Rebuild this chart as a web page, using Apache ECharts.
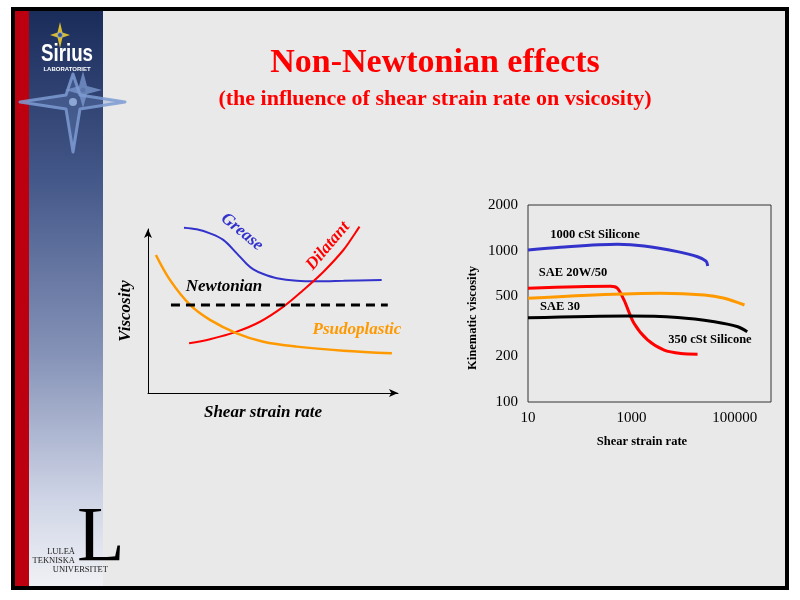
<!DOCTYPE html>
<html><head><meta charset="utf-8">
<script src="https://cdn.jsdelivr.net/npm/echarts@6/dist/echarts.min.js"></script>
<style>html,body{margin:0;padding:0;background:#fff}#c{width:800px;height:600px}</style>
</head><body><div id="c"></div>
<script>
// ---------- Left (qualitative) chart data: arbitrary units 0..100 ----------
const greaseX = [14.1, 19.1, 24.3, 29.5, 34.8, 38.7, 41.3, 45.2, 50.5, 58.3, 66.2, 76.6, 91.6];
const greaseY = [98.4, 97.4, 95.0, 91.1, 83.1, 76.8, 73.6, 70.8, 68.3, 66.8, 66.5, 66.8, 67.3];
const dilatantX = [16.1, 24.3, 34.8, 43.9, 53.1, 60.9, 68.8, 76.6, 81.2, 82.9];
const dilatantY = [29.6, 32.0, 36.5, 42.4, 51.4, 61.3, 72.2, 85.1, 95.1, 99.0];
const pseudoX = [3.1, 8.6, 16.5, 24.3, 34.8, 45.2, 58.3, 76.6, 95.6];
const pseudoY = [82.1, 67.3, 52.4, 43.5, 35.5, 30.5, 27.6, 25.2, 23.6];
const newtonX = [9, 94];
const newtonY = [52.4, 52.4];

// ---------- Right (log-log) chart data ----------
const sil1000X = [10, 42, 535, 1760, 7800, 19000, 27700, 29900];
const sil1000Y = [1009, 1052, 1100, 1072, 984, 911, 853, 791];
const sae2050X = [10, 89, 396, 535, 718, 1120, 2050, 4300, 9060, 19000];
const sae2050Y = [564, 577, 581, 564, 472, 331, 257, 220, 209, 207];
const sae30X = [10, 188, 3710, 25700, 62800, 153500];
const sae30Y = [484, 509, 522, 509, 484, 437];
const sil350X = [10, 836, 7820, 40300, 114300, 173400];
const sil350Y = [360, 370, 362, 339, 314, 291];

const xTickValues = [10, 1000, 100000];
const yTickValues = [100, 200, 500, 1000, 2000];

// ---------- Texts ----------
const titleText = 'Non-Newtonian effects';
const subtitleText = '(the influence of shear strain rate on vsicosity)';

const serif = '"Liberation Serif","Times New Roman",serif';
const sans = '"Liberation Sans",Arial,sans-serif';
const pair = (xs, ys) => xs.map((x, i) => [x, ys[i]]);

const chart = echarts.init(document.getElementById('c'), null, {width: 800, height: 600});

function txt(text, x, y, font, fill, opts) {
  return Object.assign({
    type: 'text', x: x, y: y, z: 10,
    style: {text: text, font: font, fill: fill, textAlign: 'center', textVerticalAlign: 'middle'}
  }, opts || {});
}

const bg = [
  {type: 'rect', z: -10, shape: {x: 13, y: 9, width: 774, height: 579},
   style: {fill: '#e9e9e9', stroke: '#000', lineWidth: 4}},
  {type: 'rect', z: -9, shape: {x: 15, y: 11, width: 14, height: 575}, style: {fill: '#bd0010'}},
  {type: 'rect', z: -9, shape: {x: 29, y: 11, width: 74, height: 575},
   style: {fill: new echarts.graphic.LinearGradient(0, 0, 0, 1, [
     {offset: 0, color: '#1a2c5a'}, {offset: 0.3, color: '#45598a'},
     {offset: 0.6, color: '#8693b8'}, {offset: 0.85, color: '#cfd5e6'},
     {offset: 1, color: '#f0f1f5'}])}},
  // big compass star (outlined)
  {type: 'polygon', z: -8, shape: {points: [[73,74],[80,95],[125,102],[80,109],[73,152],[66,109],[20,102],[66,95]]},
   style: {fill: 'rgba(110,140,195,0.30)', stroke: 'rgba(125,155,210,0.85)', lineWidth: 3, lineJoin: 'round'}},
  {type: 'polygon', z: -8, shape: {points: [[83,71],[87,86],[102,90],[87,94],[83,108],[79,94],[65,90],[79,86]]},
   style: {fill: 'rgba(125,155,210,0.75)'}},
  {type: 'circle', z: -7, shape: {cx: 73, cy: 102, r: 4}, style: {fill: 'rgba(150,175,220,0.9)'}},
  {type: 'circle', z: -7, shape: {cx: 83, cy: 90, r: 2.5}, style: {fill: 'rgba(90,115,170,0.9)'}},
  // small Sirius star
  {type: 'polygon', z: -7, shape: {points: [[60,22],[62.5,32.5],[70,35],[62.5,37.5],[60,48],[57.5,37.5],[50,35],[57.5,32.5]]},
   style: {fill: '#d9bb2e'}},
  {type: 'circle', z: -6, shape: {cx: 60, cy: 35, r: 2.5}, style: {fill: '#2d4f94', stroke: '#9fb6e0', lineWidth: 0.8}},
  {type: 'text', x: 41, y: 54, z: 10, scaleX: 0.78,
   style: {text: 'Sirius', font: 'bold 24px ' + sans, fill: '#ffffff', textAlign: 'left', textVerticalAlign: 'middle'}},
  txt('LABORATORIET', 67, 69, 'bold 6px ' + sans, '#ffffff'),
  // LTU logo
  {type: 'text', x: 77, y: 540, z: 10, style: {text: 'L', font: '78px ' + serif, fill: '#000', textAlign: 'left', textVerticalAlign: 'middle'}},
  {type: 'text', x: 75, y: 552, z: 10, style: {text: 'LULEÅ', font: '8.5px ' + serif, fill: '#222', textAlign: 'right', textVerticalAlign: 'middle'}},
  {type: 'text', x: 75, y: 561, z: 10, style: {text: 'TEKNISKA', font: '8.5px ' + serif, fill: '#222', textAlign: 'right', textVerticalAlign: 'middle'}},
  {type: 'text', x: 108, y: 570, z: 10, style: {text: 'UNIVERSITET', font: '8.5px ' + serif, fill: '#222', textAlign: 'right', textVerticalAlign: 'middle'}},
  // titles
  txt(titleText, 435, 63, 'bold 34px ' + serif, '#ff0000'),
  txt(subtitleText, 435, 99, 'bold 22px ' + serif, '#ff0000'),
  // left chart labels
  txt('Grease', 242, 232, 'bold italic 17px ' + serif, '#3333cc', {rotation: -0.69}),
  txt('Dilatant', 328, 246, 'bold italic 17px ' + serif, '#ff0000', {rotation: 0.87}),
  txt('Newtonian', 224, 287, 'bold italic 17px ' + serif, '#000000'),
  txt('Psudoplastic', 357, 330, 'bold italic 17px ' + serif, '#ff9900'),
  txt('Shear strain rate', 263, 413, 'bold italic 17px ' + serif, '#000000'),
  // right chart labels
  txt('1000 cSt Silicone', 595, 235, 'bold 12.5px ' + serif, '#000'),
  txt('SAE 20W/50', 573, 273, 'bold 12.5px ' + serif, '#000'),
  txt('SAE 30', 560, 307, 'bold 12.5px ' + serif, '#000'),
  txt('350 cSt Silicone', 710, 340, 'bold 12.5px ' + serif, '#000'),
  txt('Kinematic viscosity', 473, 318, 'bold 12.5px ' + serif, '#000', {rotation: Math.PI / 2}),
  txt('Shear strain rate', 642, 442, 'bold 12.5px ' + serif, '#000')
];

const plainAxis = {
  axisTick: {show: false}, splitLine: {show: false}
};

const option = {
  animation: false,
  backgroundColor: '#ffffff',
  graphic: {elements: bg},
  grid: [
    {left: 148, top: 229, width: 250, height: 164},
    {left: 528, top: 205, width: 243, height: 197, show: true, borderColor: '#333', borderWidth: 1, backgroundColor: 'transparent'}
  ],
  xAxis: [
    Object.assign({gridIndex: 0, type: 'value', min: 0, max: 98, z: 5,
      axisLine: {show: true, symbol: ['none', 'arrow'], symbolSize: [6, 9], lineStyle: {color: '#000', width: 1}},
      axisLabel: {show: false}}, plainAxis),
    Object.assign({gridIndex: 1, type: 'log', logBase: 10, min: 10, max: 500000, z: 5,
      axisLine: {show: false},
      axisLabel: {customValues: xTickValues, margin: 9, fontFamily: serif, fontSize: 15, color: '#000',
        formatter: v => String(Math.round(v))}}, plainAxis)
  ],
  yAxis: [
    Object.assign({gridIndex: 0, type: 'value', min: 0, max: 97.6, z: 5,
      name: 'Viscosity', nameLocation: 'middle', nameRotate: 90, nameGap: 14,
      nameTextStyle: {fontFamily: serif, fontSize: 17, fontWeight: 'bold', fontStyle: 'italic', color: '#000'},
      axisLine: {show: true, symbol: ['none', 'arrow'], symbolSize: [6, 9], lineStyle: {color: '#000', width: 1}},
      axisLabel: {show: false}}, plainAxis),
    Object.assign({gridIndex: 1, type: 'log', logBase: 10, min: 100, max: 2000, z: 5,
      axisLine: {show: false},
      axisLabel: {customValues: yTickValues, margin: 10, fontFamily: serif, fontSize: 15, color: '#000',
        formatter: v => String(Math.round(v))}}, plainAxis)
  ],
  series: [
    {name: 'Grease', type: 'line', xAxisIndex: 0, yAxisIndex: 0, data: pair(greaseX, greaseY),
     smooth: 0.35, showSymbol: false, clip: false, silent: true, lineStyle: {color: '#3333cc', width: 2}},
    {name: 'Dilatant', type: 'line', xAxisIndex: 0, yAxisIndex: 0, data: pair(dilatantX, dilatantY),
     smooth: 0.35, showSymbol: false, clip: false, silent: true, lineStyle: {color: '#ff0000', width: 2}},
    {name: 'Psudoplastic', type: 'line', xAxisIndex: 0, yAxisIndex: 0, data: pair(pseudoX, pseudoY),
     smooth: 0.35, showSymbol: false, clip: false, silent: true, lineStyle: {color: '#ff9900', width: 2.5}},
    {name: 'Newtonian', type: 'line', xAxisIndex: 0, yAxisIndex: 0, data: pair(newtonX, newtonY),
     showSymbol: false, clip: false, silent: true, lineStyle: {color: '#000', width: 3, type: [9, 6]}},
    {name: '1000 cSt Silicone', type: 'line', xAxisIndex: 1, yAxisIndex: 1, data: pair(sil1000X, sil1000Y),
     smooth: 0.3, showSymbol: false, silent: true, lineStyle: {color: '#3333cc', width: 3}},
    {name: 'SAE 20W/50', type: 'line', xAxisIndex: 1, yAxisIndex: 1, data: pair(sae2050X, sae2050Y),
     smooth: 0.3, showSymbol: false, silent: true, lineStyle: {color: '#ff0000', width: 3}},
    {name: 'SAE 30', type: 'line', xAxisIndex: 1, yAxisIndex: 1, data: pair(sae30X, sae30Y),
     smooth: 0.3, showSymbol: false, silent: true, lineStyle: {color: '#ff9900', width: 3}},
    {name: '350 cSt Silicone', type: 'line', xAxisIndex: 1, yAxisIndex: 1, data: pair(sil350X, sil350Y),
     smooth: 0.3, showSymbol: false, silent: true, lineStyle: {color: '#000000', width: 3}}
  ]
};
chart.setOption(option);
</script>
</body></html>
